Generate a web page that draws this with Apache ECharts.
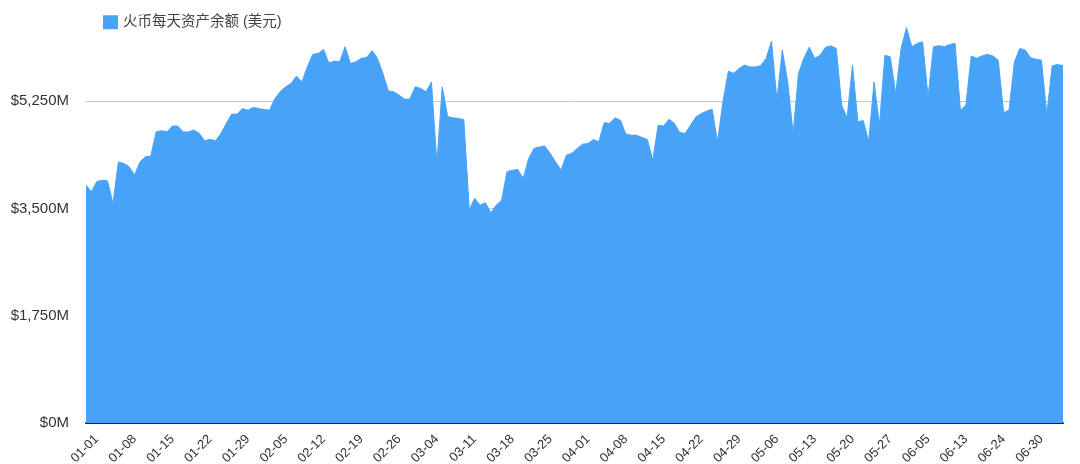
<!DOCTYPE html>
<html>
<head>
<meta charset="utf-8">
<script src="https://cdn.jsdelivr.net/npm/echarts@6/dist/echarts.min.js"></script>
<style>html,body{margin:0;padding:0;background:#fff;}#chart{width:1080px;height:464px;}</style>
</head>
<body>
<div id="chart"></div>
<script>
const seriesName = '火币每天资产余额 (美元)';
const dates = [
'12-30','12-31',
'01-01','01-02','01-03','01-04','01-05','01-06','01-07','01-08','01-09','01-10','01-11','01-12','01-13','01-14','01-15','01-16','01-17','01-18','01-19','01-20','01-21','01-22','01-23','01-24','01-25','01-26','01-27','01-28','01-29','01-30','01-31',
'02-01','02-02','02-03','02-04','02-05','02-06','02-07','02-08','02-09','02-10','02-11','02-12','02-13','02-14','02-15','02-16','02-17','02-18','02-19','02-20','02-21','02-22','02-23','02-24','02-25','02-26','02-27','02-28','02-29',
'03-01','03-02','03-03','03-04','03-05','03-06','03-07','03-08','03-09','03-10','03-11','03-12','03-13','03-14','03-15','03-16','03-17','03-18','03-19','03-20','03-21','03-22','03-23','03-24','03-25','03-26','03-27','03-28','03-29','03-30','03-31',
'04-01','04-02','04-03','04-04','04-05','04-06','04-07','04-08','04-09','04-10','04-11','04-12','04-13','04-14','04-15','04-16','04-17','04-18','04-19','04-20','04-21','04-22','04-23','04-24','04-25','04-26','04-27','04-28','04-29','04-30',
'05-01','05-02','05-03','05-04','05-05','05-06','05-07','05-08','05-09','05-10','05-11','05-12','05-13','05-14','05-15','05-16','05-17','05-18','05-19','05-20','05-21','05-22','05-23','05-24','05-25','05-26','05-27',
'05-28','05-29','05-30','05-31','06-02','06-03',
'06-05','06-06','06-07','06-08','06-09','06-10','06-12',
'06-13','06-14','06-15','06-17','06-18','06-20','06-22',
'06-24','06-25','06-26','06-27','06-28','06-29','06-29',
'06-30','07-01','07-02','07-03','07-04'
];
const balances = [
3880,3770,3940,3960,3950,3580,4260,4235,4180,4045,
4260,4345,4355,4750,4770,4750,4845,4845,4750,4750,
4780,4725,4605,4630,4605,4725,4890,5040,5040,5130,
5105,5150,5130,5115,5105,5295,5410,5485,5540,5660,
5565,5810,6015,6030,6095,5875,5905,5895,6140,5865,
5895,5950,5965,6075,5950,5705,5420,5405,5350,5285,
5285,5485,5460,5405,5565,4235,5485,5000,4980,4970,
4950,3480,3665,3555,3595,3430,3555,3635,4100,4125,
4135,3990,4315,4480,4505,4520,4400,4260,4125,4370,
4400,4480,4550,4560,4625,4590,4900,4890,4980,4940,
4715,4695,4695,4660,4625,4290,4860,4845,4955,4890,
4740,4725,4860,4995,5050,5090,5120,4590,5240,5740,
5705,5785,5840,5810,5810,5830,5950,6230,5270,6085,
5565,4725,5705,5950,6130,5950,6000,6130,6155,6110,
5185,4980,5840,4915,4935,4590,5565,4860,6000,5975,
5375,6110,6450,6140,6195,6220,5320,6140,6155,6140,
6175,6195,5105,5185,5990,5950,5990,6015,5990,5920,
5065,5105,5895,6110,6085,5960,5935,5920,5035,5830,
5850,5830
];
const yTicks = [0, 1750, 3500, 5250, 7000];

const firstLabelIndex = dates.indexOf('01-01');
const chart = echarts.init(document.getElementById('chart'), null, {renderer: 'canvas'});
const fontFamily = '"Liberation Sans", Arial, "Noto Sans CJK SC", sans-serif';
chart.setOption({
  animation: false,
  textStyle: {fontFamily: fontFamily},
  legend: {
    data: [seriesName],
    left: 98, top: 10,
    icon: 'rect', itemWidth: 15, itemHeight: 14, itemGap: 8,
    textStyle: {fontSize: 14.5, color: '#444', fontFamily: fontFamily}
  },
  grid: {left: 86, right: 17, top: -6, bottom: 41, containLabel: false, outerBoundsMode: 'none'},
  xAxis: {
    type: 'category',
    boundaryGap: false,
    data: dates,
    axisLine: {show: true, lineStyle: {color: '#222', width: 2}},
    axisTick: {show: false},
    splitLine: {show: false},
    axisLabel: {
      rotate: 45,
      fontSize: 13,
      color: '#333',
      margin: 14,
      interval: function (idx) { return (idx - firstLabelIndex) % 7 === 0 && idx >= firstLabelIndex; }
    }
  },
  yAxis: {
    type: 'value',
    min: yTicks[0], max: yTicks[yTicks.length - 1], interval: yTicks[1] - yTicks[0],
    axisLine: {show: false},
    axisTick: {show: false},
    splitLine: {show: true, lineStyle: {color: '#c8c8c8', width: 1}},
    axisLabel: {
      fontSize: 15, color: '#333', margin: 17,
      formatter: function (v) { return '$' + v.toLocaleString('en-US') + 'M'; }
    }
  },
  series: [{
    name: seriesName,
    type: 'line',
    data: balances,
    symbol: 'none',
    showSymbol: false,
    lineStyle: {width: 1, color: '#46a3f8'},
    itemStyle: {color: '#46a3f8'},
    areaStyle: {color: '#46a3f8', opacity: 1}
  }]
});
</script>
</body>
</html>
